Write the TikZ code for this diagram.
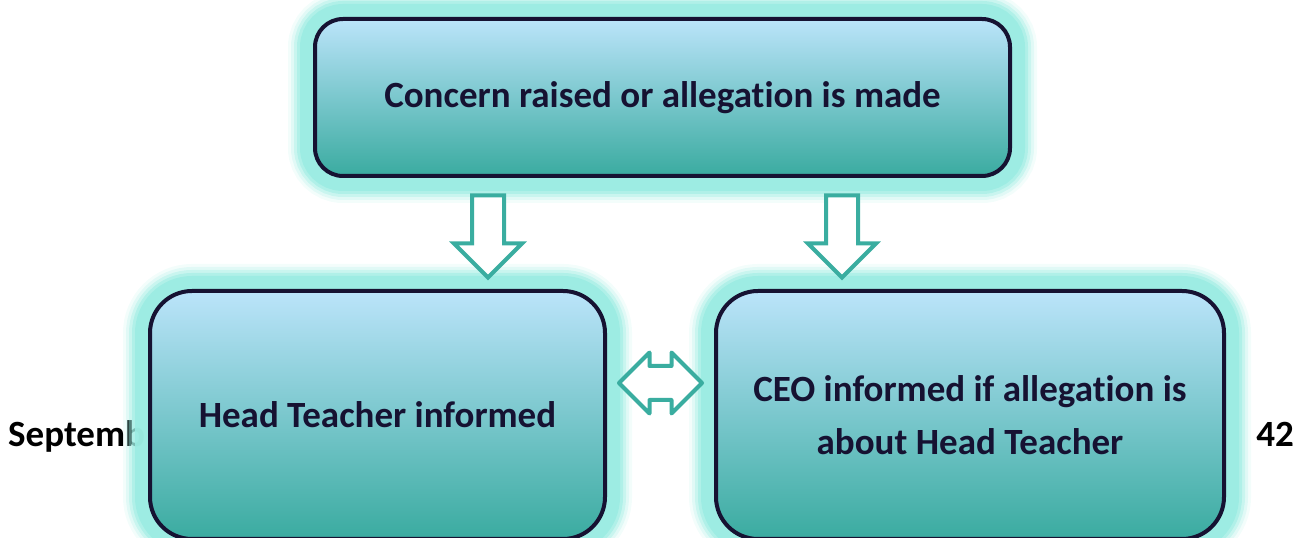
\documentclass[tikz,border=0pt]{standalone}
\usepackage{fontspec}
\setmainfont[RawFeature=-liga]{Carlito}
\usetikzlibrary{shapes.arrows}
\definecolor{navy}{RGB}{22,18,50}
\definecolor{skytop}{RGB}{187,228,250}
\definecolor{tealbot}{RGB}{58,171,160}
\definecolor{glowc}{RGB}{155,236,226}
\definecolor{arrowc}{RGB}{58,173,160}
\tikzset{
  glow/.style={preaction={draw=glowc, line width=54pt, opacity=0.12},
               preaction={draw=glowc, line width=48pt, opacity=0.2},
               preaction={draw=glowc, line width=42pt, opacity=0.35},
               preaction={draw=glowc, line width=36pt, opacity=0.55},
               preaction={draw=glowc, line width=30pt, opacity=0.9}},
  box/.style={glow, draw=navy, line width=4pt, top color=skytop, bottom color=tealbot,
              text=navy, font={\bfseries\fontsize{37}{53}\selectfont}, align=center, inner sep=0pt},
  footer/.style={font={\bfseries\fontsize{37}{44}\selectfont}, text=black, inner sep=0pt},
  downarrow/.style={single arrow, draw=arrowc, fill=white, line width=4pt, rotate=-90,
                    inner xsep=0pt, inner ysep=14pt, single arrow head extend=18pt, minimum height=82pt},
  botharrow/.style={double arrow, draw=arrowc, fill=white, line width=4pt, line join=round,
                    inner xsep=0pt, inner ysep=15pt, double arrow head extend=13.5pt, minimum height=83pt}
}
\begin{document}
\begin{tikzpicture}[x=1pt, y=1pt]
\useasboundingbox (0,0) rectangle (1307,538);
\def\dy{123} % centre line of the lower boxes

% page footer, partly hidden behind the boxes
\node[footer, anchor=base west] (month) at (8, 91) {Septemb};
\node[footer, anchor=base east] (page) at (1294, 91) {42};

\node[box, minimum width=695pt, minimum height=157pt, rounded corners=28pt] (concern) at (662.5, 440.5) {Concern raised or allegation is made};
\node[box, minimum width=455pt, minimum height=248pt, rounded corners=42pt] (head) at (377.5, \dy) {Head Teacher informed};
\node[box, minimum width=508pt, minimum height=248pt, rounded corners=42pt] (ceo) at (970, \dy) {CEO informed if allegation is\\about Head Teacher};

\node[downarrow] (toHead) at (488, 309.5) {};
\node[downarrow] (toCeo) at (842, 309.5) {};
\node[botharrow] (link) at (660.5, \dy + 32) {};
\end{tikzpicture}
\end{document}
